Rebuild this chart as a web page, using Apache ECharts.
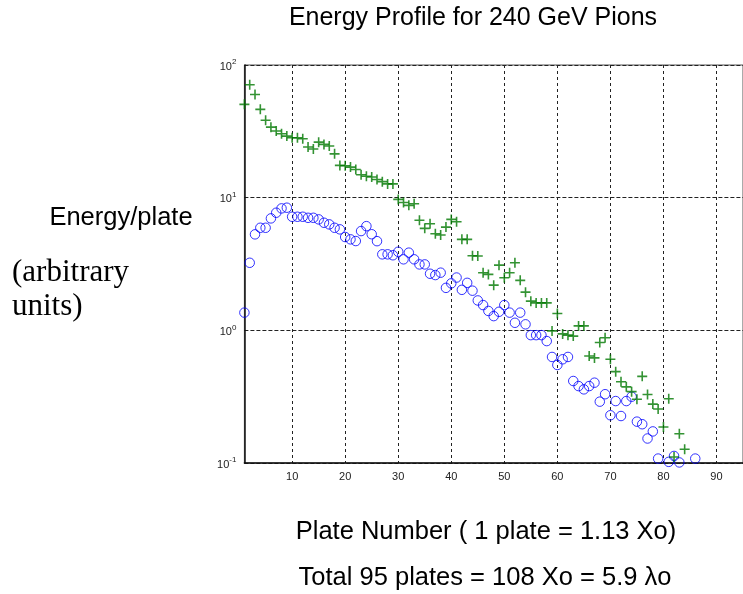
<!DOCTYPE html>
<html>
<head>
<meta charset="utf-8">
<script src="https://cdn.jsdelivr.net/npm/echarts@6/dist/echarts.min.js"></script>
<style>
  html, body { margin: 0; padding: 0; background: #fff; }
  #chart { width: 743px; height: 594px; }
</style>
</head>
<body>
<div id="chart"></div>
<script>
// Energy deposited per plate, two shower profiles (log scale)
const bluePlates = [
  1, 2, 3, 4, 5, 6, 7, 8, 9, 10, 11, 12, 13, 14, 15, 16, 17, 18, 19, 20,
  21, 22, 23, 24, 25, 26, 27, 28, 29, 30, 31, 32, 33, 34, 35, 36, 37, 38, 39, 40,
  41, 42, 43, 44, 45, 46, 47, 48, 49, 50, 51, 52, 53, 54, 55, 56, 57, 58, 59, 60,
  61, 62, 63, 64, 65, 66, 67, 68, 69, 70, 71, 72, 73, 74, 75, 76, 77, 78, 79,
  81, 82, 83, 86
];
const blueEnergy = [
  1.36, 3.23, 5.29, 5.93, 5.93, 6.98, 7.7, 8.3, 8.4, 7.18, 7.18, 7.18, 7.05, 7.05, 6.86, 6.47, 6.29, 5.93, 5.77, 5.05,
  4.85, 4.71, 5.6, 6.1, 5.3, 4.7, 3.74, 3.74, 3.68, 3.91, 3.43, 3.85, 3.43, 3.14, 3.14, 2.67, 2.61, 2.72, 2.09, 2.26,
  2.5, 2.02, 2.28, 1.99, 1.68, 1.55, 1.4, 1.28, 1.38, 1.55, 1.36, 1.14, 1.36, 1.11, 0.92, 0.92, 0.92, 0.83, 0.63, 0.548,
  0.605, 0.63, 0.415, 0.38, 0.359, 0.38, 0.403, 0.29, 0.33, 0.229, 0.293, 0.226, 0.293, 0.316, 0.205, 0.196, 0.153, 0.173, 0.108,
  0.102, 0.113, 0.101, 0.108
];

const greenPlates = [
  1, 2, 3, 4, 5, 6, 7, 8, 9, 10, 11, 12, 13, 14, 15, 16, 17, 18, 19, 20,
  21, 22, 23, 24, 25, 26, 27, 28, 29, 30, 31, 32, 33, 34, 35, 36, 37, 38, 39, 40,
  41, 42, 43, 44, 45, 46, 47, 48, 49, 50, 51, 52, 53, 54, 55, 56, 57, 58, 59, 60,
  61, 62, 63, 64, 65, 66, 67, 68, 69, 70, 71, 72, 73, 74, 75, 76, 77, 78, 79, 80,
  81, 82, 83, 84
];
const greenEnergy = [
  50.5, 71, 60, 46.3, 38.3, 34, 31.8, 30.3, 29.1, 28.3, 28.3, 27.8, 24.1, 23.3, 26.2, 25.2, 24.5, 21.4, 17.5, 17.4,
  17.0, 16.3, 14.9, 14.5, 14.3, 13.7, 13.2, 12.7, 12.7, 9.7, 9.2, 8.75, 9.0, 6.75, 5.87, 6.36, 5.35, 5.23, 6.0, 6.86,
  6.58, 4.85, 4.85, 3.65, 3.63, 2.72, 2.64, 2.19, 3.1, 2.49, 2.72, 3.23, 2.38, 1.94, 1.66, 1.61, 1.61, 1.61, 0.99, 1.34,
  0.94, 0.92, 0.905, 1.08, 1.08, 0.64, 0.62, 0.81, 0.88, 0.605, 0.488, 0.41, 0.375, 0.345, 0.302, 0.45, 0.328, 0.278, 0.255, 0.187,
  0.305, 0.111, 0.166, 0.127
];

const xTicks = [10, 20, 30, 40, 50, 60, 70, 80, 90];
const xRange = [1, 95];
const yRange = [0.1, 100];

const titleText = 'Energy Profile for 240 GeV Pions';
const yLabelText = 'Energy/plate';
const yUnitLines = ['(arbitrary', 'units)'];
const xLabelText = 'Plate Number ( 1 plate = 1.13 Xo)';
const noteText = 'Total 95 plates = 108 Xo = 5.9 \u03bbo';

const pair = (xs, ys) => xs.map((x, i) => [x, ys[i]]);

const sans = '"Liberation Sans", Arial, sans-serif';
const serif = '"Liberation Serif", "Times New Roman", serif';

const chart = echarts.init(document.getElementById('chart'), null, { renderer: 'canvas' });

chart.setOption({
  animation: false,
  backgroundColor: '#ffffff',
  grid: {
    left: 244.4, top: 65, width: 500.5, height: 398,
    show: true, borderColor: '#555', borderWidth: 1, backgroundColor: '#fff'
  },
  xAxis: {
    type: 'value',
    min: xRange[0], max: xRange[1],
    axisLine: { show: true, onZero: false, lineStyle: { color: '#111', width: 1.5 } },
    axisTick: { show: false, customValues: xTicks },
    axisLabel: {
      customValues: xTicks, margin: 8,
      color: '#222', fontFamily: sans, fontSize: 11
    },
    splitLine: { show: true, lineStyle: { color: '#222', width: 1, type: [3, 3] } }
  },
  yAxis: {
    type: 'log', logBase: 10,
    min: yRange[0], max: yRange[1],
    axisLine: { show: true, lineStyle: { color: '#111', width: 1.5 } },
    axisTick: { show: false },
    minorTick: { show: false },
    axisLabel: {
      margin: 8,
      formatter: v => '{b|10}{s|' + Math.round(Math.log10(v)) + '}',
      rich: {
        b: { fontFamily: sans, fontSize: 11, color: '#222', lineHeight: 14, verticalAlign: 'bottom' },
        s: { fontFamily: sans, fontSize: 8, color: '#222', lineHeight: 14, verticalAlign: 'top' }
      }
    },
    splitLine: { show: true, lineStyle: { color: '#222', width: 1, type: [4, 2] } }
  },
  series: [
    {
      type: 'scatter',
      data: pair(bluePlates, blueEnergy),
      symbol: 'circle',
      symbolSize: 9.5,
      itemStyle: { color: 'rgba(0,0,0,0)', borderColor: '#0000ff', borderWidth: 1 },
      clip: true
    },
    {
      type: 'scatter',
      data: pair(greenPlates, greenEnergy),
      symbol: 'path://M0,5L10,5M5,0L5,10',
      symbolSize: 10,
      itemStyle: { color: 'rgba(0,0,0,0)', borderColor: '#007800', borderWidth: 1.6 },
      clip: true
    }
  ],
  graphic: [
    { type: 'text', x: 473, y: 18, style: { text: titleText, font: '25px ' + sans, fill: '#000', textAlign: 'center', textVerticalAlign: 'middle' } },
    { type: 'text', x: 121, y: 218, style: { text: yLabelText, font: '25.5px ' + sans, fill: '#000', textAlign: 'center', textVerticalAlign: 'middle' } },
    { type: 'text', x: 12, y: 273, style: { text: yUnitLines[0], font: '31px ' + serif, fill: '#000', textAlign: 'left', textVerticalAlign: 'middle' } },
    { type: 'text', x: 12, y: 307, style: { text: yUnitLines[1], font: '31px ' + serif, fill: '#000', textAlign: 'left', textVerticalAlign: 'middle' } },
    { type: 'text', x: 486, y: 532, style: { text: xLabelText, font: '25.5px ' + sans, fill: '#000', textAlign: 'center', textVerticalAlign: 'middle' } },
    { type: 'text', x: 485, y: 578, style: { text: noteText, font: '25.5px ' + sans, fill: '#000', textAlign: 'center', textVerticalAlign: 'middle' } }
  ]
});
</script>
</body>
</html>
